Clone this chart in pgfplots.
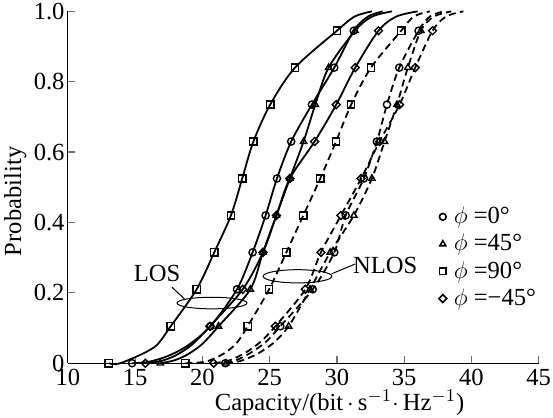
\documentclass[border=0pt]{standalone}
\usepackage{fontspec}
\setmainfont{Liberation Serif}
\usepackage{pgfplots}
\pgfplotsset{compat=1.18}

\pgfplotsset{
  los/.style={black, line width=0.9pt, smooth, tension=0.5, no markers, forget plot},
  nlos/.style={los, dash pattern=on 3.5pt off 2.2pt},
  pts/.style={only marks, black, mark size=1.8pt, line width=0.7pt, mark options={solid}, forget plot},
  dia/.style={mark=square, mark size=1.4pt, mark options={solid, rotate=45}},
}

\begin{document}
\begin{tikzpicture}[font=\fontsize{12.3}{14}\selectfont]
\begin{axis}[
  scale only axis,
  width=235.5pt, height=176pt,
  xmin=10, xmax=45, ymin=0, ymax=1,
  xtick={10,15,...,45},
  ytick={0,0.2,0.4,0.6,0.8,1.0},
  yticklabels={0,0.2,0.4,0.6,0.8,1.0},
  axis lines*=left,
  axis line style={black, line width=0.6pt},
  tick align=inside,
  major tick length=3.5pt,
  tick style={black!55, line width=0.6pt},
  clip=false,
  /pgf/number format/assume math mode=true,
  tick label style={font=\fontsize{12.3}{14}\selectfont},
  xticklabel style={inner sep=1pt, yshift=-1.8pt},
  yticklabel style={inner sep=1.5pt},
  label style={font=\fontsize{12.3}{14}\selectfont},
  xlabel={Capacity/(bit$\,\cdot\,$s$^{-1}\cdot\,$Hz$^{-1}$)},
  ylabel={Probability},
  xlabel style={at={(ticklabel cs:0.577)}, anchor=near ticklabel, inner sep=1pt},
  ylabel style={at={(ticklabel cs:0.46)}, anchor=near ticklabel, inner sep=2pt},
  legend style={draw=none, fill=none, at={(axis cs:37.1,0.465)}, anchor=north west,
                font=\fontsize{12.3}{14}\selectfont, row sep=0.8pt,
                nodes={inner sep=1.5pt}},
  legend cell align=left,
]
% ---------------- LOS (solid) ----------------
% phi = 90 (square)
\addplot[los] coordinates {(13.04,0) (13.9,0) (16.4,0.045) (17.64,0.105) (19.57,0.21) (20.88,0.315)
  (22.12,0.42) (22.96,0.525) (23.79,0.63) (25.04,0.735) (26.88,0.84) (30.0,0.945) (31.3,0.985) (32.6,1.0)};
\addplot[pts, mark=square] coordinates {(13.04,0) (17.64,0.105) (19.57,0.21) (20.88,0.315)
  (22.12,0.42) (22.96,0.525) (23.79,0.63) (25.04,0.735) (26.88,0.84) (30.0,0.945)};
% phi = 0 (circle)
\addplot[los] coordinates {(14.77,0) (16.0,0.004) (17.4,0.02) (18.9,0.05) (20.6,0.105) (22.57,0.21) (23.73,0.315)
  (24.7,0.42) (25.54,0.525) (26.6,0.63) (28.14,0.735) (29.8,0.84) (31.25,0.945) (32.3,0.985) (33.4,1.0)};
\addplot[pts, mark=o] coordinates {(14.77,0) (20.6,0.105) (22.57,0.21) (23.73,0.315)
  (24.7,0.42) (25.54,0.525) (26.6,0.63) (28.14,0.735) (29.8,0.84) (31.25,0.945)};
% phi = 45 (triangle)
\addplot[los] coordinates {(16.87,0) (17.9,0.008) (18.9,0.025) (20.0,0.055) (21.2,0.105) (23.56,0.21) (24.5,0.315)
  (25.5,0.42) (26.5,0.525) (27.52,0.63) (28.39,0.735) (29.38,0.84) (31.35,0.945) (32.6,0.985) (34.1,1.0)};
\addplot[pts, mark=triangle] coordinates {(16.87,0) (21.2,0.105) (23.56,0.21) (24.5,0.315)
  (25.5,0.42) (26.5,0.525) (27.52,0.63) (28.39,0.735) (29.38,0.84) (31.35,0.945)};
% phi = -45 (diamond)
\addplot[los] coordinates {(15.76,0) (16.9,0.006) (18.0,0.022) (19.2,0.052) (20.55,0.105) (23.0,0.21) (24.5,0.315)
  (25.5,0.42) (26.5,0.525) (28.34,0.63) (29.95,0.735) (31.36,0.84) (33.09,0.945) (34.4,0.985) (36.0,1.0)};
\addplot[pts, dia] coordinates {(15.76,0) (20.55,0.105) (23.0,0.21) (24.5,0.315)
  (25.5,0.42) (26.5,0.525) (28.34,0.63) (29.95,0.735) (31.36,0.84) (33.09,0.945)};

% ---------------- NLOS (dashed) ----------------
% phi = 90 (square)
\addplot[nlos] coordinates {(18.73,0) (20.3,0.005) (21.7,0.03) (22.6,0.06) (23.36,0.105) (24.96,0.21) (26.24,0.315)
  (27.5,0.42) (28.76,0.525) (29.93,0.63) (31.06,0.735) (32.53,0.84) (34.78,0.945) (35.7,0.985) (36.9,1.0)};
\addplot[pts, mark=square] coordinates {(18.73,0) (23.36,0.105) (24.96,0.21) (26.24,0.315)
  (27.5,0.42) (28.76,0.525) (29.93,0.63) (31.06,0.735) (32.53,0.84) (34.78,0.945)};
% phi = 0 (circle)
\addplot[nlos] coordinates {(21.7,0) (22.6,0.01) (23.6,0.03) (24.7,0.06) (25.79,0.105) (28.2,0.21) (29.8,0.315)
  (30.65,0.42) (32.0,0.525) (32.97,0.63) (33.72,0.735) (34.63,0.84) (36.07,0.945) (36.9,0.985) (37.9,1.0)};
\addplot[pts, mark=o] coordinates {(21.7,0) (25.79,0.105) (28.2,0.21) (29.8,0.315)
  (30.65,0.42) (32.0,0.525) (32.97,0.63) (33.72,0.735) (34.63,0.84) (36.07,0.945)};
% phi = 45 (triangle)
\addplot[nlos] coordinates {(21.75,0) (22.8,0.006) (24.0,0.025) (25.2,0.055) (26.41,0.105) (28.0,0.21) (29.5,0.315)
  (31.26,0.42) (32.6,0.525) (33.54,0.63) (34.46,0.735) (35.27,0.84) (36.24,0.945) (37.2,0.985) (38.5,1.0)};
\addplot[pts, mark=triangle] coordinates {(21.75,0) (26.41,0.105) (28.0,0.21) (29.5,0.315)
  (31.26,0.42) (32.6,0.525) (33.54,0.63) (34.46,0.735) (35.27,0.84) (36.24,0.945)};
% phi = -45 (diamond)
\addplot[nlos] coordinates {(20.84,0) (22.0,0.008) (23.2,0.03) (24.3,0.06) (25.42,0.105) (27.65,0.21) (28.81,0.315)
  (30.3,0.42) (31.8,0.525) (33.17,0.63) (34.66,0.735) (35.82,0.84) (37.11,0.945) (38.1,0.985) (39.4,1.0)};
\addplot[pts, dia] coordinates {(20.84,0) (25.42,0.105) (27.65,0.21) (28.81,0.315)
  (30.3,0.42) (31.8,0.525) (33.17,0.63) (34.66,0.735) (35.82,0.84) (37.11,0.945)};

% legend
\addlegendimage{only marks, black, mark=o, mark size=1.7pt, line width=0.8pt}
\addlegendentry{\hspace{2pt}$\phi$ =0°}
\addlegendimage{only marks, black, mark=triangle, mark size=1.7pt, line width=0.8pt}
\addlegendentry{\hspace{2pt}$\phi$ =45°}
\addlegendimage{only marks, black, mark=square, mark size=1.6pt, line width=0.8pt}
\addlegendentry{\hspace{2pt}$\phi$ =90°}
\addlegendimage{only marks, black, mark=square, mark size=1.4pt, mark options={rotate=45}, line width=0.8pt}
\addlegendentry{\hspace{2pt}$\phi$ =−45°}

% annotations
\draw[line width=0.5pt] (axis cs:20.71,0.171) ellipse [x radius=17.5pt, y radius=2.9pt];
\draw[line width=0.5pt] (axis cs:17.74,0.216) -- (axis cs:18.71,0.181);
\node at (axis cs:16.63,0.254) {LOS};
\draw[line width=0.5pt] (axis cs:27.07,0.247) ellipse [x radius=17.2pt, y radius=3.3pt];
\draw[line width=0.5pt] (axis cs:29.6,0.254) -- (axis cs:31.36,0.282);
\node at (axis cs:33.59,0.277) {NLOS};
\end{axis}
\end{tikzpicture}
\end{document}
